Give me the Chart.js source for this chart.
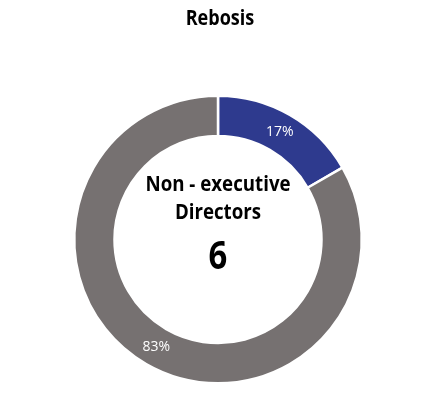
<!DOCTYPE html>
<html>
<head>
<meta charset="utf-8">
<script src="https://cdn.jsdelivr.net/npm/chart.js@4.4.1/dist/chart.umd.min.js"></script>
<style>
html,body{margin:0;padding:0;background:#fff;}
#wrap{width:439px;height:394px;position:relative;}
</style>
</head>
<body>
<div id="wrap"><canvas id="c" width="439" height="394"></canvas></div>
<script>
const titleText = "Rebosis";
const categories = ["Executive", "Non - executive"];
const values = [1, 5];
const percentLabels = ["17%", "83%"];
const centerLines = ["Non - executive", "Directors"];
const centerValue = "6";
const colors = ["#2E3A8E", "#767171"];

function narrowText(ctx, text, x, y, sx) {
  ctx.save();
  ctx.translate(x, y);
  ctx.scale(sx, 1);
  ctx.fillText(text, 0, 0);
  ctx.restore();
}

const overlay = {
  id: "overlay",
  afterDatasetsDraw(chart) {
    const ctx = chart.ctx;
    const meta = chart.getDatasetMeta(0);
    ctx.save();
    ctx.textAlign = "center";
    ctx.textBaseline = "middle";
    ctx.fillStyle = "#ffffff";
    ctx.font = "14px 'Open Sans'";
    meta.data.forEach((arc, i) => {
      const p = arc.tooltipPosition();
      ctx.fillText(percentLabels[i], p.x, p.y);
    });
    const cx = meta.data[0].x, cy = meta.data[0].y;
    ctx.fillStyle = "#000000";
    ctx.font = "bold 22px 'Open Sans'";
    narrowText(ctx, centerLines[0], cx, cy - 55, 0.85);
    narrowText(ctx, centerLines[1], cx, cy - 27, 0.85);
    ctx.font = "bold 40px 'Open Sans'";
    narrowText(ctx, centerValue, cx, cy + 18, 0.82);
    ctx.font = "bold 22px 'Open Sans'";
    narrowText(ctx, titleText, chart.width / 2 + 0.5, 19, 0.82);
    ctx.restore();
  }
};

new Chart(document.getElementById("c"), {
  type: "doughnut",
  data: {
    labels: categories,
    datasets: [{
      data: values,
      backgroundColor: colors,
      borderColor: "#ffffff",
      borderWidth: 2.5
    }]
  },
  options: {
    responsive: false,
    animation: false,
    cutout: "72%",
    layout: { padding: { top: 94, bottom: 9, left: 73, right: 76 } },
    plugins: {
      legend: { display: false },
      tooltip: { enabled: false },
      title: { display: false }
    }
  },
  plugins: [overlay]
});
</script>
</body>
</html>
